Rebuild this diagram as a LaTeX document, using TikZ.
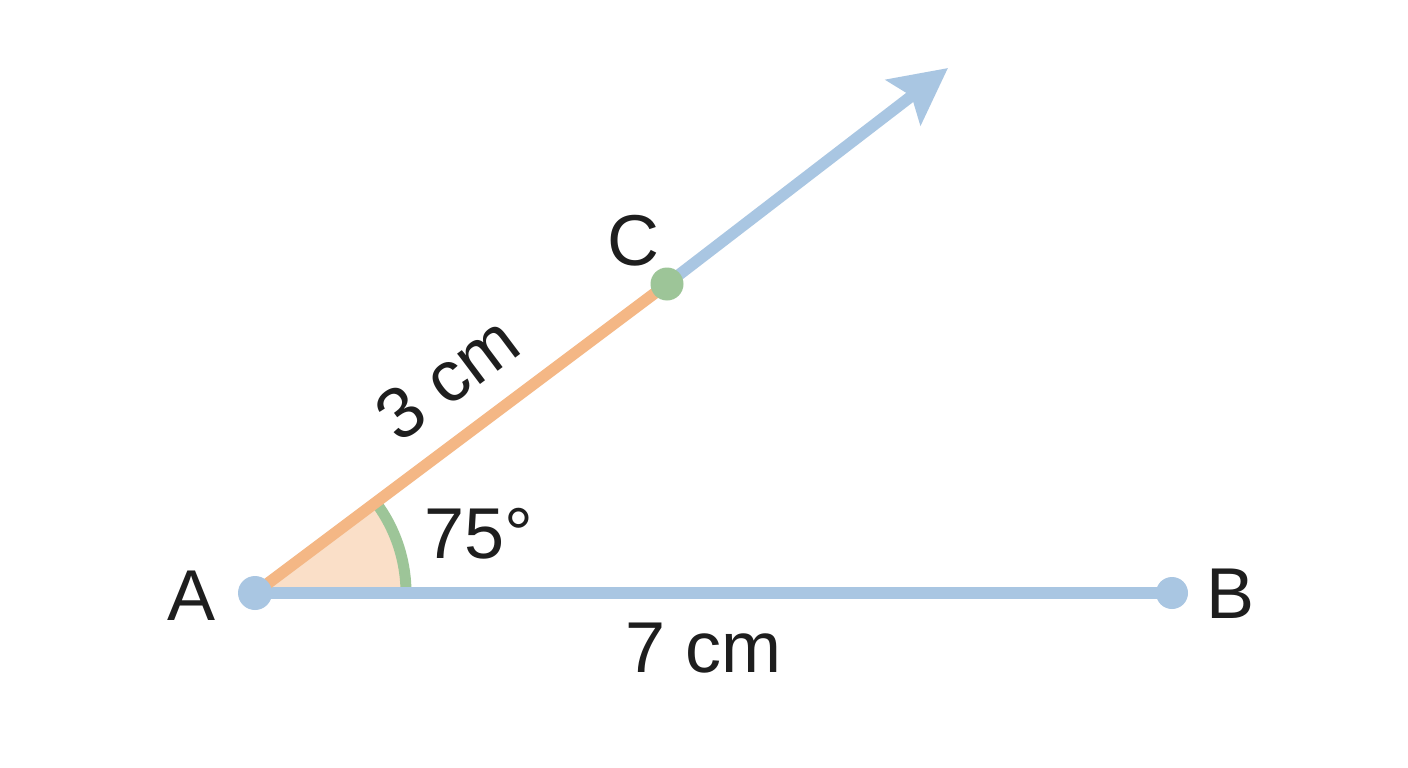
\documentclass[tikz,border=0pt]{standalone}
\usepackage{fontspec}
\setmainfont{Liberation Sans}
\usetikzlibrary{arrows.meta,calc}
\definecolor{lblue}{HTML}{A9C6E2}
\definecolor{lorange}{HTML}{F4B785}
\definecolor{lgreen}{HTML}{9DC598}
\definecolor{lfill}{HTML}{FADFC8}
\definecolor{ink}{HTML}{1E1E1E}
\tikzset{
  seg/.style={line width=11.5pt},
  dotnode/.style={circle, inner sep=0pt, minimum size=33pt},
  lbl/.style={text=ink, font=\fontsize{72}{76}\selectfont, inner sep=0pt}
}
\begin{document}
\begin{tikzpicture}[x=1pt,y=-1pt]
\useasboundingbox (0,0) rectangle (1408,768);
\fill[white] (0,0) rectangle (1408,768);
\coordinate (A) at (255,593);
\coordinate (B) at (1172,593);
\coordinate (C) at (667,284);
\coordinate (T) at (948,68);
% angle sector
\fill[lfill] (A) -- ++(0:146pt) arc[start angle=0, end angle=36.87, radius=146pt] -- cycle;
\draw[lgreen, line width=11pt] ($(A)+(0:151pt)$) arc[start angle=0, end angle=36.87, radius=151pt];
% segments
\draw[seg, lblue] (A) -- (B);
\draw[seg, lorange] (A) -- (C);
\draw[seg, lblue, -{Stealth[length=56pt, width=56pt, inset=10pt]}] (C) -- (T);
% dots
\node[dotnode, fill=lblue, minimum size=34pt] (dA) at (A) {};
\node[dotnode, fill=lblue, minimum size=32pt] (dB) at (B) {};
\node[dotnode, fill=lgreen, minimum size=33pt] (dC) at (C) {};
% labels
\node[lbl] (lA) at (192,596) {A};
\node[lbl] (lB) at (1230,594) {B};
\node[lbl] (lC) at (633,241) {C};
\node[lbl] (l7) at (704,648) {7 cm};
\node[lbl, rotate=36.87] (l3) at (447,378) {3 cm};
\node[lbl] (l75) at (479,534) {75°};
\end{tikzpicture}
\end{document}
